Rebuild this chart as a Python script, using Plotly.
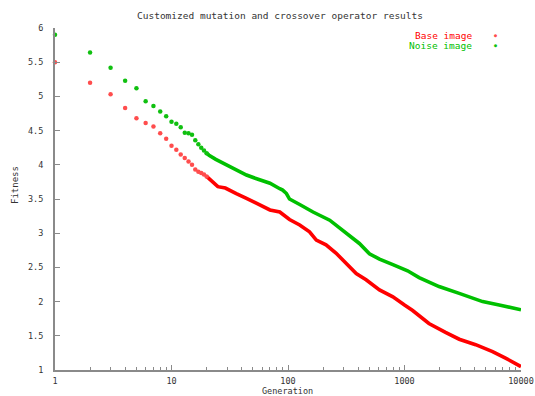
import plotly.graph_objects as go

# Early generations (drawn as separate points)
early_gen = list(range(1, 21))
base_early = [5.50, 5.20, 5.03, 4.83, 4.68, 4.61, 4.56, 4.46, 4.38, 4.28,
              4.22, 4.15, 4.10, 4.05, 4.00, 3.93, 3.90, 3.88, 3.86, 3.83]
noise_early = [5.90, 5.64, 5.42, 5.23, 5.12, 4.93, 4.86, 4.78, 4.71, 4.63,
               4.60, 4.55, 4.47, 4.46, 4.44, 4.36, 4.30, 4.25, 4.21, 4.17]

# Later generations (dense points forming a thick line)
base_gen = [20, 21, 25, 29, 32, 36, 44, 53, 70, 85, 103, 126, 153, 175, 212, 258,
            317, 385, 468, 610, 795, 900, 1000, 1175, 1620, 2250, 2950, 4080,
            5700, 7440, 10000]
base_val = [3.83, 3.80, 3.68, 3.66, 3.63, 3.58, 3.51, 3.44, 3.34, 3.31, 3.20, 3.12,
            3.02, 2.90, 2.83, 2.71, 2.56, 2.41, 2.32, 2.17, 2.07, 2.00, 1.95, 1.87,
            1.68, 1.55, 1.45, 1.37, 1.27, 1.17, 1.05]
noise_gen = [20, 21, 24, 28, 36, 44, 53, 70, 85, 90, 97, 103, 126, 164, 228, 317,
             410, 500, 610, 795, 1063, 1335, 1980, 2950, 4680, 6500, 10000]
noise_val = [4.17, 4.14, 4.08, 4.02, 3.92, 3.85, 3.80, 3.73, 3.65, 3.63, 3.58, 3.50,
             3.42, 3.31, 3.19, 3.00, 2.85, 2.70, 2.62, 2.54, 2.45, 2.35, 2.22, 2.12,
             2.00, 1.95, 1.88]

x_ticks = [1, 10, 100, 1000, 10000]
x_minor = [m * 10 ** k for k in range(4) for m in range(2, 10)]
y_ticks = [1, 1.5, 2, 2.5, 3, 3.5, 4, 4.5, 5, 5.5, 6]

RED = "#ff0000"
GREEN = "#00c000"
FONT = "DejaVu Sans Mono"
GRAY = "#333333"
AX = "#8a8a8a"

fig = go.Figure()
fig.add_trace(go.Scatter(x=base_gen, y=base_val, mode="lines",
                         line=dict(color=RED, width=3.6), showlegend=False,
                         cliponaxis=False))
fig.add_trace(go.Scatter(x=noise_gen, y=noise_val, mode="lines",
                         line=dict(color=GREEN, width=3.6), showlegend=False,
                         cliponaxis=False))
fig.add_trace(go.Scatter(x=early_gen, y=base_early, mode="markers", showlegend=False,
                         marker=dict(color="#ff4d4d", size=4.5), cliponaxis=False))
fig.add_trace(go.Scatter(x=early_gen, y=noise_early, mode="markers", showlegend=False,
                         marker=dict(color="#10c010", size=4.5), cliponaxis=False))

L, R, T, B = 55, 14, 28, 26
PW = 535 - L - R
PH = 396 - T - B
LX = (474 - L) / PW
SX = (495 - L) / PW
fig.update_layout(
    width=535, height=396,
    margin=dict(l=L, r=R, t=T, b=B, autoexpand=False),
    plot_bgcolor="white", paper_bgcolor="white",
    font=dict(family=FONT, size=9, color=GRAY),
    showlegend=False,
    annotations=[
        dict(text="Customized mutation and crossover operator results",
             xref="paper", yref="paper", x=(280 - L) / PW, y=1.0, yshift=13,
             xanchor="center", yanchor="middle", showarrow=False,
             font=dict(family=FONT, size=9.5, color=GRAY)),
        dict(text="Base image", xref="paper", yref="paper",
             x=LX, y=1.0, yshift=-7, xanchor="right", yanchor="middle",
             showarrow=False, font=dict(family=FONT, size=9.5, color=RED)),
        dict(text="Noise image", xref="paper", yref="paper",
             x=LX, y=1.0, yshift=-17, xanchor="right", yanchor="middle",
             showarrow=False, font=dict(family=FONT, size=9.5, color=GREEN)),
        dict(text="●", xref="paper", yref="paper",
             x=SX, y=1.0, yshift=-7, xanchor="center", yanchor="middle",
             showarrow=False, font=dict(family=FONT, size=5, color="#ff4d4d")),
        dict(text="●", xref="paper", yref="paper",
             x=SX, y=1.0, yshift=-17, xanchor="center", yanchor="middle",
             showarrow=False, font=dict(family=FONT, size=5, color="#10c010")),
        dict(text="Generation", xref="paper", yref="paper",
             x=(287 - L) / PW, y=0, yshift=-(391 - (396 - B)),
             xanchor="center", yanchor="middle", showarrow=False,
             font=dict(family=FONT, size=8.5, color=GRAY)),
        dict(text="Fitness", xref="paper", yref="paper", textangle=-90,
             x=0, xshift=-(L - 15), y=(396 - B - 185) / PH,
             xanchor="center", yanchor="middle", showarrow=False,
             font=dict(family=FONT, size=9, color=GRAY)),
    ],
)
fig.update_xaxes(type="log", range=[0, 4], tickvals=x_ticks,
                 ticktext=[str(v) for v in x_ticks], automargin=False,
                 showgrid=False, zeroline=False, showline=True, linecolor=AX,
                 linewidth=2, ticks="inside", ticklen=5, tickcolor=AX,
                 tickwidth=1, ticklabelstandoff=2, tickfont=dict(size=8.5),
                 minor=dict(ticks="inside", ticklen=3, tickcolor=AX, showgrid=False,
                            tickvals=x_minor))
fig.update_yaxes(range=[1, 6], tickvals=y_ticks,
                 ticktext=[("%g" % v) for v in y_ticks], automargin=False,
                 showgrid=False, zeroline=False, showline=True, linecolor=AX,
                 linewidth=2, ticks="inside", ticklen=5, tickcolor=AX,
                 tickwidth=1, ticklabelstandoff=8, tickfont=dict(size=8.5))

fig.write_html("out.html", config={"displayModeBar": False},
               post_script="document.body.style.margin='0';")
